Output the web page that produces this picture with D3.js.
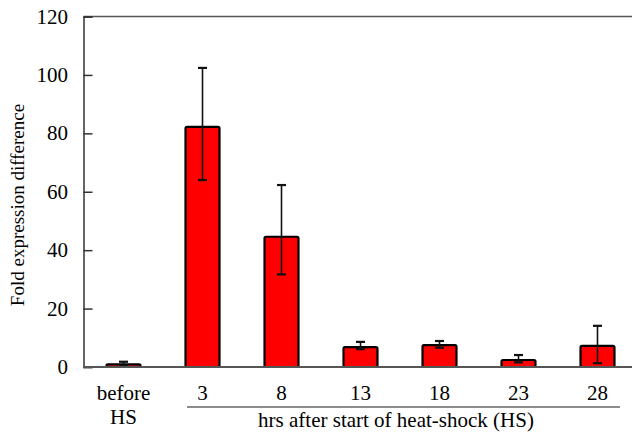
<!DOCTYPE html>
<html>
<head>
<meta charset="utf-8">
<script src="https://cdn.jsdelivr.net/npm/d3@7"></script>
<style>
  body { margin: 0; background: #fff; }
</style>
</head>
<body>
<div id="chart"></div>
<script>
// data
var categories = ["before HS", "3", "8", "13", "18", "23", "28"];
var values = [0.9, 82.2, 44.6, 6.8, 7.5, 2.4, 7.2];
var errUpper = [1.8, 102.4, 62.3, 8.6, 8.9, 4.1, 14.1];
var errLower = [0.5, 64.0, 31.7, 6.1, 6.6, 1.6, 1.3];
var yTicks = [0, 20, 40, 60, 80, 100, 120];

var width = 632, height = 436;
var margin = { top: 16.5, left: 83.5, bottom: 69 };
var serif = "Liberation Serif";
var fs = 21;

var svg = d3.select("#chart")
  .append("svg")
  .attr("width", width)
  .attr("height", height)
  .style("display", "block");

var x = d3.scaleBand()
  .domain(categories)
  .range([84, 637])
  .paddingInner(0.57)
  .paddingOuter(0.285);

var y = d3.scaleLinear()
  .domain([0, 120])
  .range([height - margin.bottom, margin.top]);

// frame: top line and left axis
svg.append("line")
  .attr("x1", margin.left).attr("x2", width)
  .attr("y1", y(120)).attr("y2", y(120))
  .attr("stroke", "#555").attr("stroke-width", 1.5);

var yAxis = svg.append("g")
  .attr("transform", "translate(" + margin.left + ",0)")
  .call(d3.axisRight(y).tickValues(yTicks).tickSize(9).tickFormat(""));
yAxis.select(".domain").attr("stroke", "#333").attr("stroke-width", 1.5);
yAxis.selectAll(".tick line").attr("stroke", "#333").attr("stroke-width", 1.5);

svg.selectAll(".ylab")
  .data(yTicks)
  .enter()
  .append("text")
  .attr("class", "ylab")
  .attr("x", 68)
  .attr("y", function (d) { return y(d); })
  .attr("dy", "0.34em")
  .attr("text-anchor", "end")
  .attr("font-family", serif)
  .attr("font-size", fs)
  .text(function (d) { return d; });

// bars
svg.selectAll(".bar")
  .data(values)
  .enter()
  .append("rect")
  .attr("class", "bar")
  .attr("x", function (d, i) { return x(categories[i]); })
  .attr("width", x.bandwidth())
  .attr("y", function (d) { return y(d); })
  .attr("height", function (d) { return y(0) - y(d); })
  .attr("rx", 1.5)
  .attr("fill", "#ff0000")
  .attr("stroke", "#000")
  .attr("stroke-width", 2.2);

// error bars
var eb = svg.selectAll(".err")
  .data(values)
  .enter()
  .append("g")
  .attr("class", "err")
  .attr("transform", function (d, i) {
    return "translate(" + (x(categories[i]) + x.bandwidth() / 2) + ",0)";
  });

eb.append("line")
  .attr("y1", function (d, i) { return y(errUpper[i]); })
  .attr("y2", function (d, i) { return y(errLower[i]); })
  .attr("stroke", "#111").attr("stroke-width", 1.6);
eb.append("line")
  .attr("x1", -4.5).attr("x2", 4.5)
  .attr("y1", function (d, i) { return y(errUpper[i]); })
  .attr("y2", function (d, i) { return y(errUpper[i]); })
  .attr("stroke", "#111").attr("stroke-width", 2.2);
eb.append("line")
  .attr("x1", -4.5).attr("x2", 4.5)
  .attr("y1", function (d, i) { return y(errLower[i]); })
  .attr("y2", function (d, i) { return y(errLower[i]); })
  .attr("stroke", "#111").attr("stroke-width", 2.2);

// baseline
svg.append("line")
  .attr("x1", margin.left).attr("x2", width)
  .attr("y1", y(0)).attr("y2", y(0))
  .attr("stroke", "#555").attr("stroke-width", 1.8);

// x labels
svg.selectAll(".xlab")
  .data(categories.slice(1))
  .enter()
  .append("text")
  .attr("class", "xlab")
  .attr("x", function (d) { return x(d) + x.bandwidth() / 2; })
  .attr("y", 400)
  .attr("text-anchor", "middle")
  .attr("font-family", serif)
  .attr("font-size", fs)
  .text(function (d) { return d; });

var bx = x(categories[0]) + x.bandwidth() / 2;
svg.append("text")
  .attr("x", bx).attr("y", 400)
  .attr("text-anchor", "middle")
  .attr("font-family", serif)
  .attr("font-size", fs)
  .text("before");
svg.append("text")
  .attr("x", bx).attr("y", 424)
  .attr("text-anchor", "middle")
  .attr("font-family", serif)
  .attr("font-size", fs)
  .text("HS");

svg.append("line")
  .attr("x1", 187).attr("x2", 620)
  .attr("y1", 407).attr("y2", 407)
  .attr("stroke", "#666").attr("stroke-width", 1.5);

svg.append("text")
  .attr("x", 396).attr("y", 427)
  .attr("text-anchor", "middle")
  .attr("font-family", serif)
  .attr("font-size", fs)
  .text("hrs after start of heat-shock (HS)");

svg.append("text")
  .attr("transform", "translate(24," + 205 + ") rotate(-90)")
  .attr("text-anchor", "middle")
  .attr("font-family", serif)
  .attr("font-size", 19)
  .text("Fold expression difference");
</script>
</body>
</html>
